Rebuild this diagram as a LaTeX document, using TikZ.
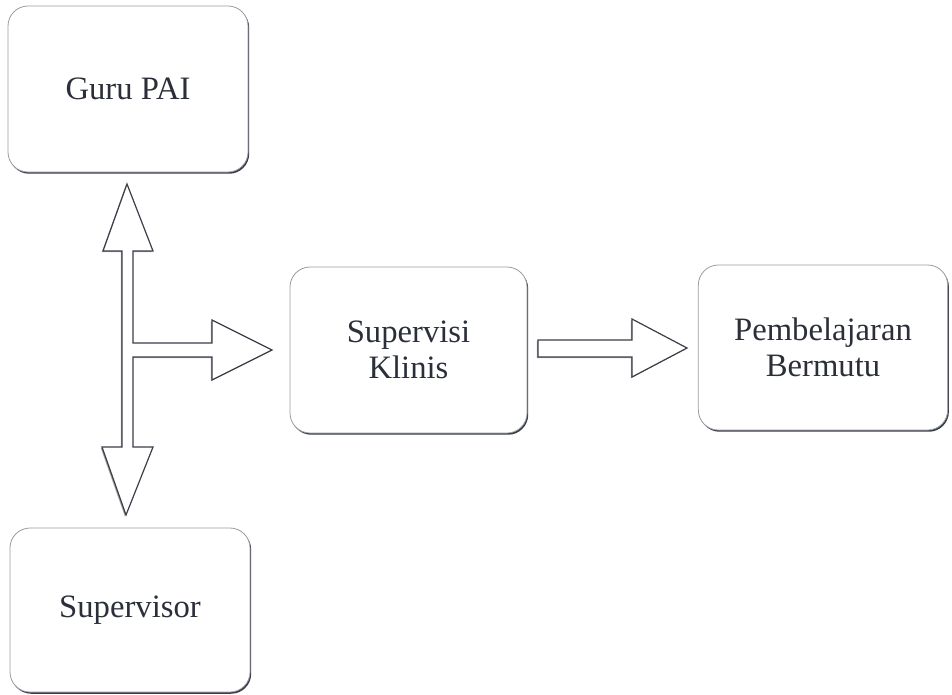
\documentclass[tikz,border=0pt]{standalone}
\usepackage{fontspec}
\setmainfont{Liberation Serif}
\usetikzlibrary{shadows}
\definecolor{ink}{HTML}{2B2F3A}
\definecolor{edge}{HTML}{9A9CA3}
\definecolor{shade}{HTML}{3A3E48}
\begin{document}
\begin{tikzpicture}[x=0.75pt,y=-0.75pt,
  box/.style={draw=edge, line width=0.6pt, fill=white, rounded corners=15pt,
    text=ink, align=center, font=\fontsize{24.5}{27}\selectfont,
    drop shadow={shadow xshift=0.9pt, shadow yshift=-1.3pt, fill=shade, opacity=1}},
  blockarrow/.style={draw=shade, line width=0.9pt, fill=white, line join=miter,
    drop shadow={shadow xshift=-0.9pt, shadow yshift=-0.9pt, fill=gray!70, opacity=1}}]
\useasboundingbox (0,0) rectangle (952,694);
\node[box, minimum width=180pt, minimum height=124.5pt] (guru) at (128,89) {Guru PAI};
\node[box, minimum width=180pt, minimum height=123pt] (supv) at (130,610) {Supervisor};
\node[box, minimum width=177.75pt, minimum height=124.5pt] (klinis) at (408.5,350) {Supervisi\\Klinis};
\node[box, minimum width=187pt, minimum height=123.75pt] (mutu) at (823,347.5) {Pembelajaran\\Bermutu};
% T-shaped block arrow
\draw[blockarrow] (127,184) -- (153,251) -- (133,251) -- (133,343) -- (212,343) -- (212,320)
  -- (272,350) -- (212,380) -- (212,357) -- (133,357) -- (133,447) -- (153,447)
  -- (126,515) -- (102,447) -- (122,447) -- (122,251) -- (103,251) -- cycle;
% right block arrow
\draw[blockarrow] (538,340) -- (632,340) -- (632,319) -- (687,348) -- (632,377)
  -- (632,357) -- (538,357) -- cycle;
\end{tikzpicture}
\end{document}
